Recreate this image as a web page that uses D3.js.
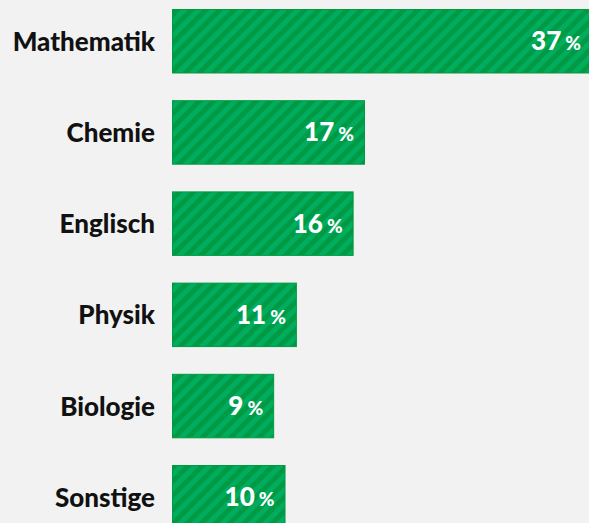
<!DOCTYPE html>
<html>
<head>
<meta charset="utf-8">
<script src="https://cdn.jsdelivr.net/npm/d3@7"></script>
<style>
  html, body { margin: 0; padding: 0; background: #f2f2f2; }
  svg { display: block; font-family: Lato, "Open Sans", sans-serif; }
</style>
</head>
<body>
<svg id="chart"></svg>
<script>
const subjects = ["Mathematik", "Chemie", "Englisch", "Physik", "Biologie", "Sonstige"];
const shares = [37, 17, 16, 11, 9, 10];

const width = 589, height = 523;
const svg = d3.select("#chart").attr("width", width).attr("height", height);

// stripe pattern for the bars
const defs = svg.append("defs");
const pat = defs.append("pattern")
    .attr("id", "stripes")
    .attr("patternUnits", "userSpaceOnUse")
    .attr("width", 10)
    .attr("height", 10)
    .attr("patternTransform", "rotate(45)");
pat.append("rect").attr("width", 10).attr("height", 10).attr("fill", "#00ad5f");
pat.append("rect").attr("width", 5).attr("height", 10).attr("fill", "#009a45");

const yScale = d3.scaleBand()
    .domain(subjects)
    .range([9, 529.5])
    .paddingInner(0.293)
    .paddingOuter(0);

const xScale = d3.scaleLinear()
    .domain([0, 37])
    .range([172, 592]);

const rows = subjects.map((s, i) => ({ name: s, value: shares[i] }));

svg.append("g").selectAll("rect")
    .data(rows)
    .join("rect")
    .attr("x", xScale(0) + 0.5)
    .attr("y", d => yScale(d.name) + 0.5)
    .attr("width", d => xScale(d.value) - xScale(0) - 1)
    .attr("height", yScale.bandwidth() - 1)
    .attr("fill", "url(#stripes)")
    .attr("stroke", "#00993f")
    .attr("stroke-width", 1);

// category labels
svg.append("g").selectAll("text")
    .data(rows)
    .join("text")
    .attr("x", 155)
    .attr("y", d => yScale(d.name) + yScale.bandwidth() / 2 + 9.5)
    .attr("text-anchor", "end")
    .attr("font-size", "26px")
    .attr("font-weight", 900)
    .attr("fill", "#111")
    .text(d => d.name);

// values inside bars
const vals = svg.append("g").selectAll("text")
    .data(rows)
    .join("text")
    .attr("x", d => xScale(d.value) - 11)
    .attr("y", d => yScale(d.name) + yScale.bandwidth() / 2 + 9)
    .attr("text-anchor", "end")
    .attr("fill", "#fff")
    .attr("font-weight", 900);
vals.append("tspan").attr("font-size", "26px").text(d => d.value);
vals.append("tspan").attr("font-size", "19px").attr("dx", 4).text("%");
</script>
</body>
</html>
